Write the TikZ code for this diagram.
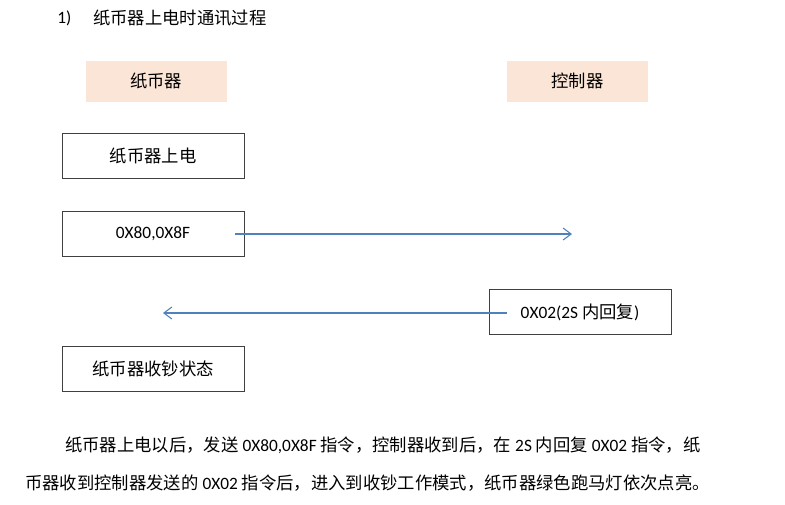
\documentclass[tikz,border=0pt]{standalone}
\usepackage{fontspec}
\setmainfont{Carlito}
\newfontfamily\cjk{Noto Sans CJK SC}
\usepackage{tikz}
\usetikzlibrary{arrows.meta, calc}
\definecolor{peach}{RGB}{251,229,214}
\definecolor{linkblue}{RGB}{79,129,189}
\definecolor{boxgray}{RGB}{64,64,64}

\begin{document}
\begin{tikzpicture}[x=0.75pt,y=-0.75pt,font=\fontsize{13}{15}\selectfont,
        party/.style={fill=peach, minimum width=105.75pt, minimum height=30.75pt, inner sep=0pt},
        stage/.style={draw=boxgray, line width=0.7pt, minimum width=136.5pt, minimum height=34pt, inner sep=0pt},
        msg/.style={draw=linkblue, line width=0.8pt, -{Straight Barb[length=6pt,width=9pt]}},
        para/.style={anchor=west, inner sep=0pt}]
        \useasboundingbox (0,0) rectangle (785,504);
        \node[para] (num) at (57,18) {1)};
        \node[para] (title) at (93,18) {\cjk 纸币器上电时通讯过程};
        \node[party] (acc) at (156,81) {\cjk 纸币器};
        \node[party] (ctl) at (577.5,81) {\cjk 控制器};
        \node[stage] (up) at (153,156) {\cjk 纸币器上电};
        \node[stage] (cmd) at (153,234) {0X80,0X8F};
        \node[stage] (reply) at (580,312) {0X02(2S {\cjk 内回复})};
        \node[stage] (state) at (153,369) {\cjk 纸币器收钞状态};
        \coordinate (ctlin) at (572,234);
        \coordinate (accin) at (163,313);
        \draw[msg] ($(cmd.east)+(-9,0)$) -- (ctlin);
        \draw[msg] ($(reply.west)+(18,1)$) -- (accin);
        \node[para] (line1) at (65,445) {{\cjk 纸币器上电以后，发送} 0X80,0X8F {\cjk 指令，控制器收到后，在} 2S {\cjk 内回复} 0X02 {\cjk 指令，纸}};
        \node[para] (line2) at (25,483) {{\cjk 币器收到控制器发送的} 0X02 {\cjk 指令后，进入到收钞工作模式，纸币器绿色跑马灯依次点亮。}};
      \end{tikzpicture}
\end{document}
